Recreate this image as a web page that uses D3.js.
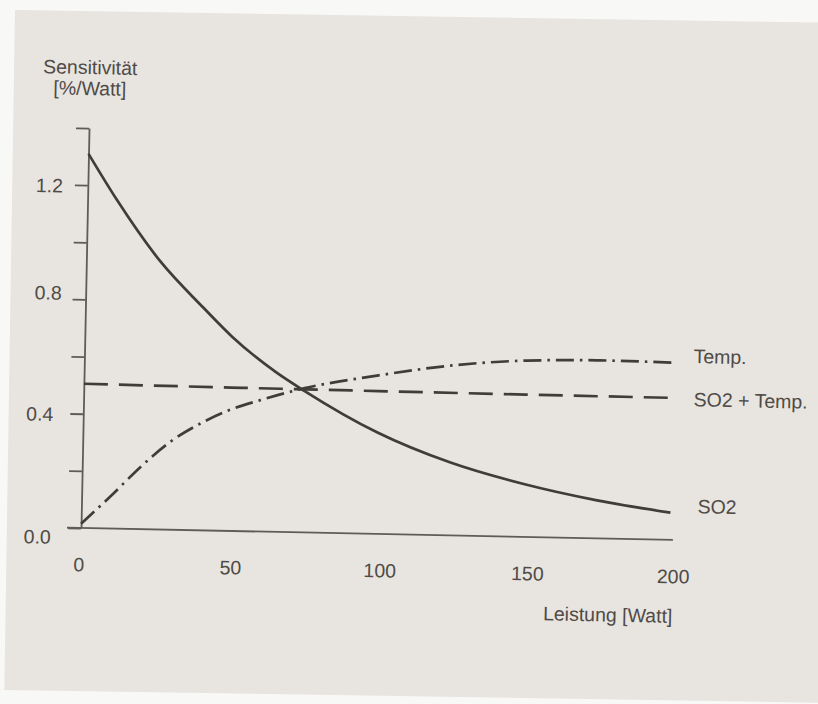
<!DOCTYPE html>
<html>
<head>
<meta charset="utf-8">
<script src="https://cdn.jsdelivr.net/npm/d3@7"></script>
<style>
  html, body { margin: 0; padding: 0; background: #f8f8f7; }
  svg { display: block; }
</style>
</head>
<body>
<svg id="chart" width="818" height="704"></svg>
<script>
// Sensitivität [%/Watt] über Leistung [Watt]
const so2W      = [0, 10, 25, 40, 50, 65, 75, 100, 125, 150, 175, 200];
const so2       = [1.31, 1.15, 0.94, 0.78, 0.68, 0.56, 0.495, 0.355, 0.255, 0.185, 0.133, 0.095];

const tempW     = [0, 10, 20, 30, 40, 50, 60, 75, 100, 125, 150, 175, 200];
const temp      = [0.015, 0.115, 0.22, 0.31, 0.375, 0.425, 0.46, 0.505, 0.555, 0.595, 0.617, 0.623, 0.62];

const sumW      = [0, 50, 100, 150, 200];
const so2Temp   = [0.505, 0.502, 0.50, 0.498, 0.497];

const xTicks    = [0, 50, 100, 150, 200];
const yTicks    = [0, 0.2, 0.4, 0.6, 0.8, 1.0, 1.2, 1.4];
const yLabels   = [0.0, 0.4, 0.8, 1.2];

const yTitle    = ["Sensitivität", "[%/Watt]"];
const xTitle    = "Leistung [Watt]";

const FONT = "'Liberation Sans', Arial, Helvetica, sans-serif";
const FS = 19.5;
const INK = "#403d39";
const AXIS = "#5f5b56";
const TEXT = "#4f4b47";

const svg = d3.select("#chart");

// paper sheet, slightly skewed on the page
svg.append("rect")
  .attr("x", 15).attr("y", 10)
  .attr("width", 900).attr("height", 680)
  .attr("transform", "rotate(0.9,15,10)")
  .attr("fill", "#e8e4df");

const x = d3.scaleLinear().domain([0, 200]).range([81, 670]);
const y = d3.scaleLinear().domain([0, 1.4]).range([528, 128]);

const g = svg.append("g")
  .attr("transform", `rotate(1.15,${x(0)},${y(0)})`)
  .style("font-family", FONT);

// y axis with unlabelled ticks every 0.2
const yAxis = d3.axisLeft(y).tickValues(yTicks).tickSize(13).tickSizeOuter(0).tickFormat("");
const ya = g.append("g").attr("transform", `translate(${x(0)},0)`).call(yAxis);
ya.selectAll("path.domain").attr("stroke", AXIS).attr("stroke-width", 1.8);
ya.selectAll(".tick line").attr("stroke", AXIS).attr("stroke-width", 1.8);

// y labels, set by hand beside their ticks
const yNudge = { "0": [-6, 9.5], "0.4": [-6, 1], "0.8": [0, -6], "1.2": [-1, 1] };
g.append("g").selectAll("text").data(yLabels).join("text")
  .attr("x", d => 57 + yNudge[String(d)][0])
  .attr("y", d => y(d) + yNudge[String(d)][1])
  .attr("dy", "0.35em")
  .attr("text-anchor", "end")
  .attr("font-size", FS)
  .attr("fill", TEXT)
  .text(d => d3.format(".1f")(d));

// x axis baseline
g.append("line")
  .attr("x1", x(0) - 14).attr("x2", x(200) + 3)
  .attr("y1", y(0)).attr("y2", y(0))
  .attr("stroke", AXIS).attr("stroke-width", 1.8);

// x labels (hand-set, a little off the exact tick spacing)
const xNudge = { 0: -2, 50: 2.5, 100: 4.5, 150: 5, 200: 3.5 };
const xAxis = d3.axisBottom(x).tickValues(xTicks).tickSize(0).tickPadding(29.5).tickFormat(d3.format("d"));
const xa = g.append("g").attr("transform", `translate(0,${y(0)})`).call(xAxis);
xa.select("path.domain").remove();
xa.selectAll(".tick text")
  .attr("x", d => xNudge[d])
  .attr("font-size", FS).attr("fill", TEXT).attr("font-family", FONT);

// axis titles
g.append("text")
  .attr("x", x(0)).attr("y", 74)
  .attr("text-anchor", "middle").attr("font-size", FS).attr("fill", TEXT)
  .text(yTitle[0]);
g.append("text")
  .attr("x", x(0)).attr("y", 95)
  .attr("text-anchor", "middle").attr("font-size", FS).attr("fill", TEXT)
  .text(yTitle[1]);
g.append("text")
  .attr("x", x(200) + 4).attr("y", 611)
  .attr("text-anchor", "end").attr("font-size", FS).attr("fill", TEXT)
  .text(xTitle);

// curves
const series = [
  { name: "SO2",         w: so2W,  v: so2,     dash: null,         lx: 27, ly: 0 },
  { name: "SO2 + Temp.", w: sumW,  v: so2Temp, dash: "24,11",      lx: 21, ly: 8 },
  { name: "Temp.",       w: tempW, v: temp,    dash: "18,6,2.5,6", lx: 20, ly: 0 }
];

const line = d3.line()
  .x(d => x(d[0]))
  .y(d => y(d[1]))
  .curve(d3.curveMonotoneX);

series.forEach(s => {
  const pts = s.w.map((w, i) => [w, s.v[i]]);
  g.append("path")
    .datum(pts)
    .attr("d", line)
    .attr("fill", "none")
    .attr("stroke", INK)
    .attr("stroke-width", 2.7)
    .attr("stroke-dasharray", s.dash);
  const last = pts[pts.length - 1];
  g.append("text")
    .attr("x", x(last[0]) + s.lx)
    .attr("y", y(last[1]) + s.ly)
    .attr("font-size", FS)
    .attr("fill", TEXT)
    .text(s.name);
});
</script>
</body>
</html>
